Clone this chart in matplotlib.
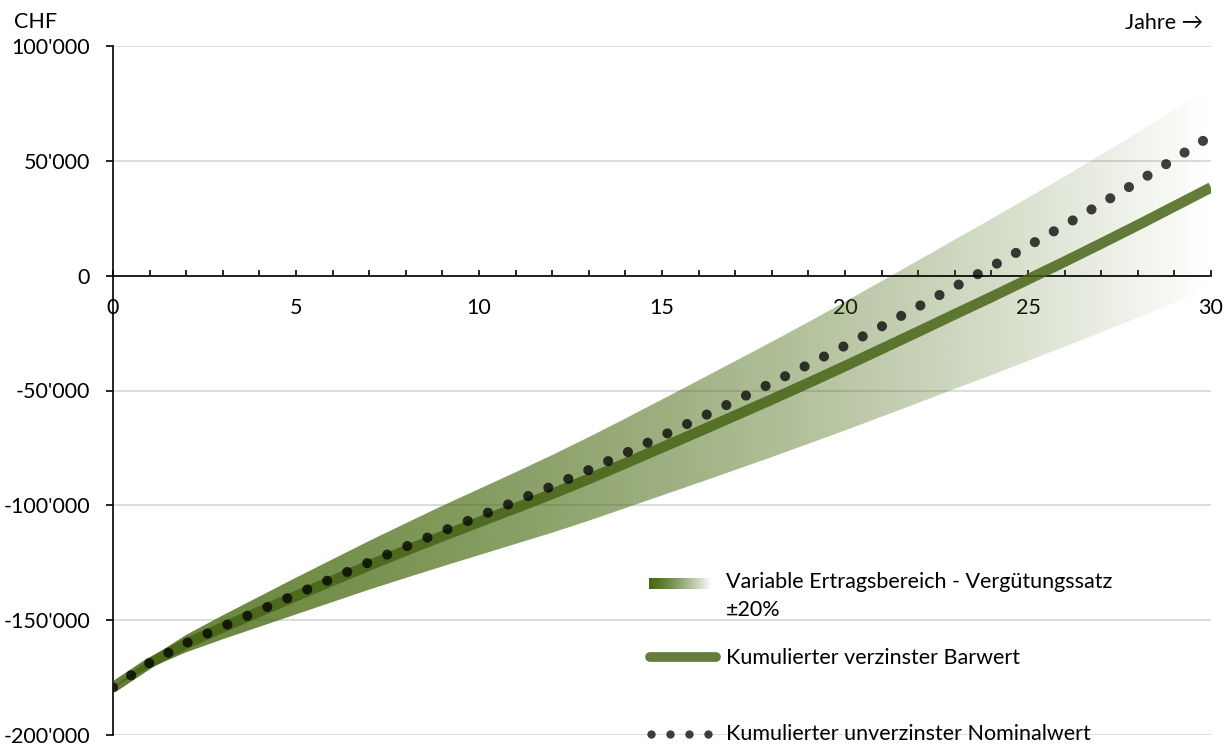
import numpy as np
import matplotlib
matplotlib.use("Agg")
import matplotlib.pyplot as plt
from matplotlib.ticker import MultipleLocator, FuncFormatter
from matplotlib.lines import Line2D
from matplotlib.patches import PathPatch

plt.rcParams['font.family'] = ['Lato', 'DejaVu Sans']

# ---- data (CHF, cumulative per year) ----
years = np.arange(0, 31)

barwert = np.array([
    -179.3, -168.7, -160.2, -153.1, -146.3, -139.5, -132.8, -126.1, -119.7, -113.4,
    -107.3, -101.2, -95.0, -88.5, -81.7, -74.8, -67.9, -60.9, -53.9, -46.7,
    -39.4, -31.9, -24.4, -16.8, -9.3, -1.6, 6.1, 14.0, 22.0, 30.2, 38.4]) * 1000

nominal = np.array([
    -179.3, -168.6, -160.0, -152.8, -145.8, -138.8, -131.8, -124.8, -118.0, -111.3,
    -104.8, -98.3, -91.6, -84.6, -77.3, -69.8, -62.2, -54.5, -46.7, -38.7,
    -30.5, -22.1, -13.5, -4.8, 3.9, 12.9, 22.0, 31.3, 40.9, 50.8, 60.9]) * 1000

band_upper = np.array([
    -179.3, -166.6, -156.4, -147.9, -139.7, -131.5, -123.5, -115.5, -107.8, -100.2,
    -92.9, -85.6, -78.1, -70.3, -62.2, -53.9, -45.6, -37.2, -28.8, -20.2,
    -11.4, -2.4, 6.6, 15.7, 24.7, 33.9, 43.2, 52.7, 62.3, 72.1, 81.9]) * 1000

band_lower = np.array([
    -179.3, -170.8, -164.0, -158.3, -152.9, -147.5, -142.1, -136.7, -131.6, -126.6,
    -121.7, -116.8, -111.9, -106.7, -101.2, -95.7, -90.2, -84.6, -79.0, -73.2,
    -67.4, -61.4, -55.4, -49.3, -43.3, -37.1, -30.9, -24.7, -18.3, -11.7, -5.1]) * 1000

y_ticks = [-200000, -150000, -100000, -50000, 0, 50000, 100000]

label_band_1 = "Variable Ertragsbereich - Vergütungssatz"
label_band_2 = "±20%"
label_barwert = "Kumulierter verzinster Barwert"
label_nominal = "Kumulierter unverzinster Nominalwert"

# ---- styling ----
W, H = 1232, 746
FS = 15.5
band_rgb = np.array([70, 105, 15]) / 255
line_rgb = (70 / 255, 98 / 255, 20 / 255)
grid_col = '#d9d9d9'


def fx(px):
    return px / W


def fy(py):
    return 1 - py / H


fig = plt.figure(figsize=(W / 100, H / 100), dpi=100)
ax = fig.add_axes([fx(113), fy(735), (1211 - 113) / W, (735 - 46) / H])

# gradient band clipped to the range between lower and upper bound
poly = ax.fill_between(years, band_lower, band_upper, facecolor='none', edgecolor='none')
clip = PathPatch(poly.get_paths()[0], transform=ax.transData,
                 facecolor='none', edgecolor='none')
ax.add_patch(clip)
t = np.linspace(0, 1, 800)
grad = np.zeros((2, t.size, 4))
grad[..., :3] = band_rgb
grad[..., 3] = 0.82 * (1 - t ** 1.5)
im = ax.imshow(grad, extent=[0, 30, -200000, 100000], aspect='auto',
               origin='lower', interpolation='bilinear', zorder=1)
im.set_clip_path(clip)

ax.plot(years, barwert, color=line_rgb, alpha=0.83, lw=7.6,
        solid_capstyle='butt', solid_joinstyle='round', zorder=3)
ax.plot(years, nominal, color='black', alpha=0.75, lw=7.3,
        linestyle=(0, (0.001, 2.15)), dash_capstyle='round', zorder=4)

ax.set_xlim(0, 30)
ax.set_ylim(-200000, 100000)

# axes
for s in ('top', 'right'):
    ax.spines[s].set_visible(False)
ax.spines['bottom'].set_position(('data', 0))
for s in ('left', 'bottom'):
    ax.spines[s].set_color('black')
    ax.spines[s].set_linewidth(1.2)
    ax.spines[s].set_zorder(2)

ax.xaxis.set_major_locator(MultipleLocator(1))
ax.xaxis.set_major_formatter(FuncFormatter(lambda v, p: f"{int(round(v))}" if round(v) % 5 == 0 else ""))
ax.tick_params(axis='x', direction='in', length=4.5, width=1.2, pad=16,
               labelsize=FS, colors='black')
ax.set_yticks(y_ticks)
ax.yaxis.set_major_formatter(FuncFormatter(lambda v, p: f"{int(v):,}".replace(",", "'")))
ax.tick_params(axis='y', direction='out', length=5, width=1.2, pad=11.5,
               labelsize=FS, colors='black')
ax.yaxis.grid(True, color=grid_col, lw=1.3)
ax.set_axisbelow(True)

fig.text(fx(14), fy(22), "CHF", fontsize=FS, ha='left', va='center')
fig.text(fx(1203), fy(23), "Jahre →", fontsize=FS, ha='right', va='center')

# legend
lax = fig.add_axes([fx(649), fy(589), (712 - 649) / W, 11 / H])
lg = np.zeros((1, 200, 4))
lg[..., :3] = band_rgb
lg[..., 3] = np.clip(1.0 - np.linspace(0, 1, 200) ** 1.3, 0, 1)
lax.imshow(lg, aspect='auto', interpolation='bilinear')
lax.set_axis_off()

fig.text(fx(726), fy(582), label_band_1, fontsize=FS, ha='left', va='center')
fig.text(fx(726), fy(610), label_band_2, fontsize=FS, ha='left', va='center')

fig.add_artist(Line2D([fx(650), fx(716)], [fy(657), fy(657)], transform=fig.transFigure,
                      color=line_rgb, alpha=0.83, lw=7.0, solid_capstyle='round'))
fig.text(fx(726), fy(658), label_barwert, fontsize=FS, ha='left', va='center')

fig.add_artist(Line2D([fx(651), fx(670), fx(689), fx(708)], [fy(734)] * 4,
                      transform=fig.transFigure, linestyle='none', marker='o',
                      markersize=6.0, markeredgewidth=0, color='black', alpha=0.75))
fig.text(fx(726), fy(734), label_nominal, fontsize=FS, ha='left', va='center')

fig.savefig("out.png", dpi=100)
